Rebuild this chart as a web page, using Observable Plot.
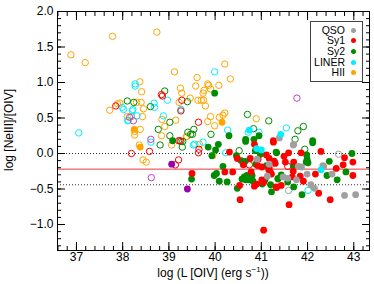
<!DOCTYPE html>
<html>
<head>
<meta charset="utf-8">
<script src="https://cdn.jsdelivr.net/npm/d3@7"></script>
<script src="https://cdn.jsdelivr.net/npm/@observablehq/plot@0.6"></script>
<style>
  body { margin: 0; background: #fff; }
  #wrap { position: relative; width: 374px; height: 284px; font-family: "Liberation Sans", Arial, sans-serif; }
  #xlab { position: absolute; left: 57px; width: 312px; top: 266px; text-align: center; font-size: 12px; line-height: 14px; color: #000; }
  #xlab sup { font-size: 8px; vertical-align: 5px; line-height: 0; }
  #ylab { position: absolute; left: 9px; top: 130px; transform: translate(-50%, -50%) rotate(-90deg); white-space: nowrap; font-size: 12px; line-height: 14px; color: #000; }
  #legend { position: absolute; left: 310px; top: 21px; width: 51px; height: 59px; border: 1px solid #444; background: #fff; }
  .row { position: absolute; right: 6px; height: 11px; line-height: 11px; font-size: 10.5px; display: flex; align-items: center; }
  .row span.dot { display: inline-block; width: 5px; height: 5px; border-radius: 50%; margin-left: 6px; }
</style>
</head>
<body>
<div id="wrap">
  <div id="chart"></div>
  <div id="ylab">log [NeIII]/[OIV]</div>
  <div id="xlab">log (L [OIV] (erg s<sup>−1</sup>))</div>
  <div id="legend"></div>
</div>
<script>
// ---- data (log L[OIV], log [NeIII]/[OIV]) ----
const hiiOpen = [[36.88,1.39],[37.78,1.65],[37.19,1.28],[38.74,1.71],[39.12,1.15],[37.72,0.61],[37.89,0.70],[37.94,0.71],[38.30,0.72],[38.37,1.01],[38.41,0.87],[38.40,0.72],[38.45,0.63],[38.10,0.52],[38.19,0.52],[38.43,0.52],[38.26,0.31],[38.26,0.26],[38.38,0.34],[38.85,0.48],[38.91,0.38],[39.15,0.47],[38.84,0.25],[39.25,0.92],[39.28,0.85],[39.22,0.72],[39.38,0.24],[40.21,1.26],[40.33,1.05],[40.08,0.96],[39.84,0.98],[39.86,0.96],[39.61,1.07],[39.58,0.95],[39.76,0.89],[39.74,0.85],[39.90,0.91],[39.46,0.78],[39.63,0.75],[39.70,0.75],[39.75,0.75],[39.79,0.67],[39.90,0.52],[40.21,0.57],[40.17,0.54],[40.09,0.51],[39.84,0.45],[39.99,0.39],[40.89,0.49],[38.36,0.12],[39.06,0.12],[39.39,0.24],[38.44,-0.09],[38.51,-0.12],[39.95,-0.03],[39.66,0.13]];
const hiiFilled = [[38.25,0.34],[38.38,0.09],[40.15,0.44]];
const linerOpen = [[37.05,0.29],[37.99,0.65],[38.27,0.98],[38.27,0.95],[38.22,0.62],[38.31,0.53],[38.12,0.47],[38.68,0.71],[38.69,0.65],[38.97,0.75],[38.88,0.53],[39.26,0.62],[39.99,1.15],[40.27,0.33],[40.72,0.30],[40.95,0.30],[41.54,0.36],[38.61,0.16],[39.53,0.12],[39.56,0.13],[40.23,0.01],[42.01,-0.52],[38.02,0.62],[38.21,0.60],[38.11,0.46],[39.74,0.16]];
const linerFilled = [[40.74,0.33],[41.42,0.27],[40.90,0.07],[41.00,0.05],[42.29,-0.23]];
const sy1Open = [[37.85,0.67],[38.84,0.83],[38.86,0.81],[39.28,0.75],[39.26,0.60],[39.24,0.18],[39.64,0.44],[38.19,0.00],[38.58,0.03],[39.14,-0.16],[39.21,-0.09],[39.21,0.18],[39.65,0.06],[39.64,0.01],[40.74,-0.16],[41.57,-0.18]];
const sy1Filled = [[41.26,0.18],[40.85,0.13],[41.26,0.16],[40.31,0.02],[40.48,-0.07],[40.76,-0.07],[41.11,-0.02],[41.17,-0.07],[41.27,-0.11],[41.30,-0.14],[40.61,-0.16],[41.01,-0.19],[39.50,-0.28],[40.21,-0.26],[40.38,-0.26],[40.53,-0.45],[40.78,-0.26],[40.85,-0.46],[40.90,-0.43],[41.01,-0.37],[41.05,-0.41],[41.16,-0.23],[41.19,-0.26],[41.22,-0.29],[41.32,-0.47],[40.54,-0.65],[41.05,-1.08],[40.92,-0.17],[41.59,0.01],[41.86,0.01],[42.29,0.03],[42.80,-0.06],[42.98,-0.12],[42.77,-0.16],[41.49,-0.04],[41.52,-0.12],[41.70,-0.12],[42.62,-0.21],[41.33,-0.48],[41.43,-0.45],[41.60,-0.72],[41.69,-0.25],[41.67,-0.33],[41.84,-0.32],[41.91,-0.39],[42.24,-0.56],[42.17,-0.29],[42.98,-0.31],[42.49,-0.65],[40.93,-0.08],[41.17,-0.20]];
const sy2Open = [[38.10,0.74],[38.24,0.72],[38.60,0.66],[38.91,0.88],[39.02,0.44],[38.77,0.34],[39.02,0.25],[39.26,0.17],[39.40,0.73],[40.70,0.55],[41.16,0.46],[40.83,0.35],[39.91,0.27],[39.54,0.34],[39.51,0.27],[39.41,0.30],[41.79,0.32],[41.91,0.38],[41.73,0.20],[38.81,0.12],[39.30,0.17],[39.29,0.09],[39.47,0.27],[40.52,0.04],[41.94,0.06],[41.28,-0.11]];
const sy2Filled = [[39.08,0.18],[39.99,0.85],[40.30,0.25],[40.66,0.20],[40.66,0.17],[40.84,0.20],[40.95,0.25],[42.11,0.18],[42.11,0.15],[41.32,0.02],[39.85,0.09],[40.07,0.13],[40.01,0.05],[39.93,-0.03],[40.46,-0.03],[40.56,-0.10],[40.65,-0.11],[40.87,0.04],[40.98,-0.01],[40.88,-0.15],[41.11,-0.17],[41.33,0.01],[40.17,-0.18],[39.49,-0.36],[39.98,-0.31],[40.03,-0.28],[40.09,-0.39],[40.26,-0.40],[40.58,-0.36],[40.63,-0.33],[40.69,-0.31],[40.66,-0.37],[40.72,-0.37],[40.80,-0.31],[40.82,-0.39],[41.02,-0.43],[41.08,-0.37],[41.20,-0.44],[41.22,-0.54],[41.36,-0.36],[41.98,-0.02],[41.99,-0.08],[41.97,-0.12],[42.01,-0.13],[42.96,0.00],[42.47,-0.11],[41.69,-0.17],[41.36,-0.35],[41.43,-0.30],[41.57,-0.40],[41.70,-0.47],[41.88,-0.58],[42.42,-0.31],[42.64,-0.37],[42.83,-0.26],[40.48,-0.49]];
const qsoOpen = [[42.67,-0.01],[41.59,-0.52]];
const qsoFilled = [[41.39,0.22],[40.91,-0.08],[41.13,-0.32],[41.70,0.13],[41.80,-0.18],[41.87,-0.19],[42.33,-0.17],[41.47,-0.33],[41.57,-0.35],[41.76,-0.37],[41.99,-0.29],[42.07,-0.44],[42.15,-0.49],[42.35,-0.18],[42.53,-0.29],[42.80,-0.59],[43.04,-0.58],[41.17,-0.15],[41.69,0.12]];
const otherOpen = [[38.15,0.51],[38.23,0.46],[38.61,0.20],[38.62,-0.34],[41.77,0.78]];
const otherFilled = [[39.06,-0.15],[39.40,-0.50]];

const dottedLines = [0, -0.44];
const meanLine = [-0.22];

const xMajor = [37, 38, 39, 40, 41, 42, 43];
const xMinor = d3.range(36.6, 43.35, 0.2).map(v => +v.toFixed(1));
const yMajor = [-1.0, -0.5, 0.0, 0.5, 1.0, 1.5, 2.0];
const yMinor = d3.range(-1.3, 2.01, 0.1).map(v => +v.toFixed(1));

const legendNames = ["QSO", "Sy1", "Sy2", "LINER", "HII"];
const colors = {QSO: "#a0a0a0", Sy1: "#ff0000", Sy2: "#008c00", LINER: "#00f0ff", HII: "#ffa500", other: "#a020b0"};

// ---- chart ----
const R = 3.2;
const openDot = (data, c) => Plot.dot(data, {x: d => d[0], y: d => d[1], r: R, stroke: c, strokeWidth: 1, fill: "none"});
const fillDot = (data, c) => Plot.dot(data, {x: d => d[0], y: d => d[1], r: R + 0.2, fill: c, stroke: "none"});

const chart = Plot.plot({
  width: 374, height: 284,
  marginLeft: 57, marginRight: 5, marginTop: 11, marginBottom: 34,
  style: {fontFamily: "Liberation Sans, Arial, sans-serif", fontSize: "12px", color: "#000", background: "#fff"},
  x: {domain: [36.59, 43.34]},
  y: {domain: [-1.366, 2.0]},
  marks: [
    Plot.ruleY(dottedLines, {stroke: "#333", strokeDasharray: "1,2"}),
    Plot.ruleY(meanLine, {stroke: "#e8383a", strokeWidth: 1}),
    openDot(hiiOpen, colors.HII),
    openDot(linerOpen, colors.LINER),
    openDot(sy2Open, colors.Sy2),
    openDot(sy1Open, colors.Sy1),
    openDot(qsoOpen, colors.QSO),
    openDot(otherOpen, "#c040c8"),
    fillDot(hiiFilled, colors.HII),
    fillDot(sy2Filled, colors.Sy2),
    fillDot(sy1Filled, colors.Sy1),
    fillDot(qsoFilled, colors.QSO),
    fillDot(linerFilled, colors.LINER),
    fillDot(otherFilled, "#9900aa"),
    Plot.axisX({anchor: "bottom", ticks: xMajor, tickSize: -8, tickPadding: 10, tickFormat: d => String(d), label: null}),
    Plot.axisX({anchor: "bottom", ticks: xMinor, tickSize: -4, fill: "none", label: null}),
    Plot.axisX({anchor: "top", ticks: xMajor, tickSize: -8, fill: "none", label: null}),
    Plot.axisX({anchor: "top", ticks: xMinor, tickSize: -4, fill: "none", label: null}),
    Plot.axisY({anchor: "left", ticks: yMajor, tickSize: -8, tickPadding: 12, tickFormat: d3.format(".1f"), label: null}),
    Plot.axisY({anchor: "left", ticks: yMinor, tickSize: -4, fill: "none", label: null}),
    Plot.axisY({anchor: "right", ticks: yMajor, tickSize: -8, fill: "none", label: null}),
    Plot.axisY({anchor: "right", ticks: yMinor, tickSize: -4, fill: "none", label: null}),
    Plot.frame({stroke: "#000"})
  ]
});
document.getElementById("chart").appendChild(chart);

// ---- legend ----
const leg = document.getElementById("legend");
legendNames.forEach((name, i) => {
  const row = document.createElement("div");
  row.className = "row";
  row.style.top = (2.5 + i * 10.7) + "px";
  row.innerHTML = `<span>${name}</span><span class="dot" style="background:${colors[name]}"></span>`;
  leg.appendChild(row);
});
</script>
</body>
</html>
